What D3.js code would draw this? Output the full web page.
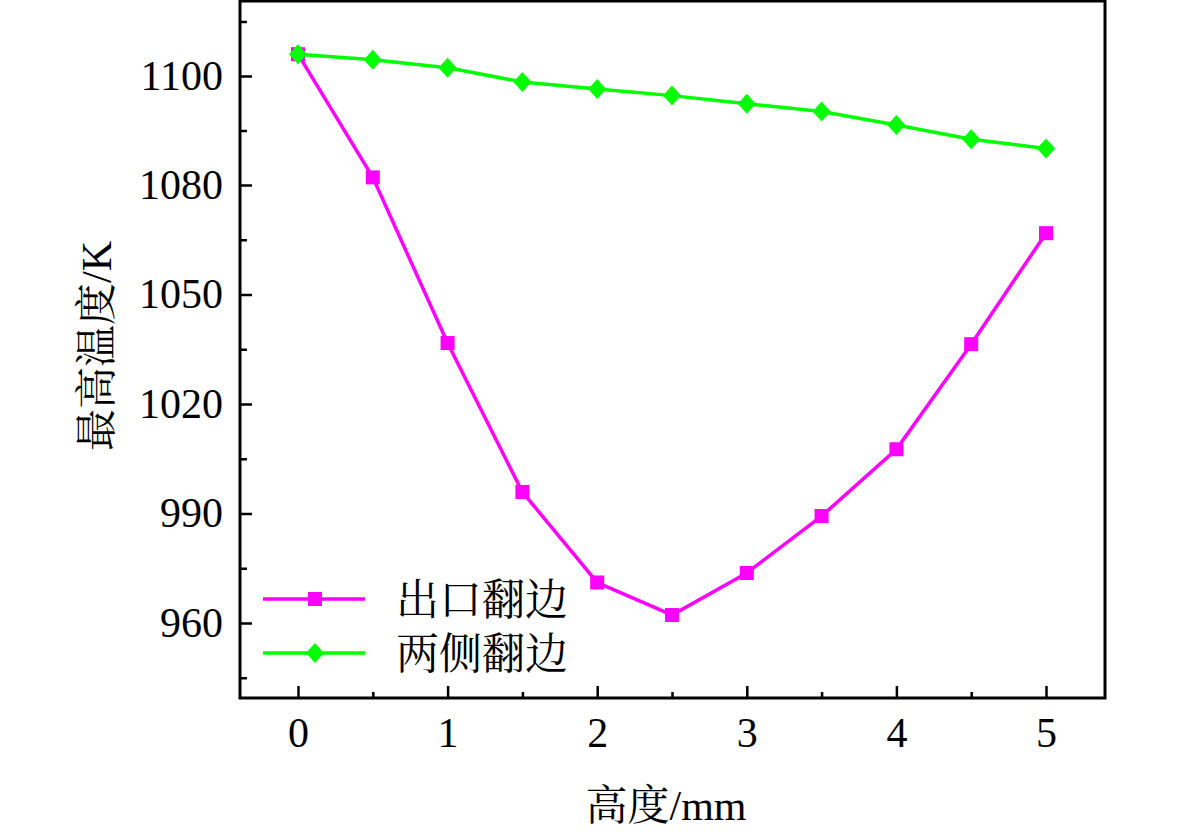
<!DOCTYPE html>
<html>
<head>
<meta charset="utf-8">
<script src="https://cdn.jsdelivr.net/npm/d3@7"></script>
<style>
  body { margin: 0; background: #fff; }
  text { font-family: "Liberation Serif", "Noto Serif CJK SC", "Noto Sans CJK SC", serif; fill: #000; }
</style>
</head>
<body>
<div id="chart"></div>
<script>
// heights (mm)
const heights = [0, 0.5, 1, 1.5, 2, 2.5, 3, 3.5, 4, 4.5, 5];
// max temperature (K)
const outletFlange = [1104.0, 1081.4, 1036.7, 995.9, 971.1, 962.2, 973.7, 989.3, 1007.6, 1036.4, 1066.8];
const sideFlange   = [1104.0, 1103.0, 1101.5, 1098.9, 1097.6, 1096.4, 1094.9, 1093.5, 1091.0, 1088.4, 1086.7];

const seriesNames = ["出口翻边", "两侧翻边"];
const xTicks = [0, 1, 2, 3, 4, 5];
const xMinor = [0.5, 1.5, 2.5, 3.5, 4.5];
// the y labels of the original are evenly spaced but not evenly valued
const yTicks = [960, 990, 1020, 1050, 1080, 1100];
const yMinor = [945, 975, 1005, 1035, 1065, 1090, 1110];

const W = 1181, H = 833;
const plotL = 240, plotR = 1105, plotT = 1, plotB = 698;

const svg = d3.select('#chart').append('svg')
    .attr('width', W)
    .attr('height', H);

const x = d3.scaleLinear().domain([0, 5]).range([298, 1046]);
// piecewise: 960..1080 evenly, then 1080..1100 over one tick step
const y = d3.scaleLinear().domain([960, 1080, 1100]).range([623, 185, 76]);

// frame
svg.append('rect')
    .attr('x', plotL).attr('y', plotT)
    .attr('width', plotR - plotL).attr('height', plotB - plotT)
    .attr('fill', 'none').attr('stroke', '#000').attr('stroke-width', 3);

// x axis (ticks pointing inside)
const xAxis = svg.append('g').attr('transform', `translate(0,${plotB})`);
xAxis.call(d3.axisBottom(x).tickValues(xTicks).tickSizeInner(-12).tickSizeOuter(0).tickPadding(20)
    .tickFormat(d3.format('d')));
xAxis.append('g').call(d3.axisBottom(x).tickValues(xMinor).tickSize(-6).tickFormat(''));

// y axis
const yAxis = svg.append('g').attr('transform', `translate(${plotL},0)`);
yAxis.call(d3.axisLeft(y).tickValues(yTicks).tickSizeInner(-12).tickSizeOuter(0).tickPadding(17)
    .tickFormat(d3.format('d')));
yAxis.append('g').call(d3.axisLeft(y).tickValues(yMinor).tickSize(-7).tickFormat(''));

svg.selectAll('.domain').remove();
svg.selectAll('.tick line').attr('stroke', '#000').attr('stroke-width', 2.5);
svg.selectAll('.tick text').style('font-size', '42px');
xAxis.selectAll('.tick text').attr('dy', '0.68em');

// titles
svg.append('text')
    .attr('x', 666).attr('y', 820)
    .attr('text-anchor', 'middle')
    .style('font-size', '42px')
    .text('高度/mm');

svg.append('text')
    .attr('transform', 'translate(111,346) rotate(-90)')
    .attr('text-anchor', 'middle')
    .style('font-size', '42px')
    .text('最高温度/K');

// lines
const line = d3.line()
    .x((d, i) => x(heights[i]))
    .y(d => y(d));

const magenta = '#ff00ff', green = '#00ff00';

svg.append('path').datum(outletFlange)
    .attr('d', line).attr('fill', 'none')
    .attr('stroke', magenta).attr('stroke-width', 3.5);

svg.selectAll('rect.sq')
    .data(outletFlange).enter().append('rect')
    .attr('class', 'sq')
    .attr('x', (d, i) => x(heights[i]) - 7)
    .attr('y', d => y(d) - 7)
    .attr('width', 14).attr('height', 14)
    .attr('fill', magenta);

svg.append('path').datum(sideFlange)
    .attr('d', line).attr('fill', 'none')
    .attr('stroke', green).attr('stroke-width', 3.5);

const diamond = 'M0,-10L9,0L0,10L-9,0Z';
svg.selectAll('path.dm')
    .data(sideFlange).enter().append('path')
    .attr('class', 'dm')
    .attr('d', diamond)
    .attr('transform', (d, i) => `translate(${x(heights[i])},${y(d)})`)
    .attr('fill', green);

// legend
const legend = svg.append('g');
const rows = [
    { name: seriesNames[0], color: magenta, y: 599, mark: 'sq' },
    { name: seriesNames[1], color: green, y: 653, mark: 'dm' }
];
rows.forEach(r => {
    legend.append('line')
        .attr('x1', 263).attr('x2', 365)
        .attr('y1', r.y).attr('y2', r.y)
        .attr('stroke', r.color).attr('stroke-width', 3.5);
    if (r.mark == 'sq') {
        legend.append('rect')
            .attr('x', 315 - 7).attr('y', r.y - 7)
            .attr('width', 14).attr('height', 14)
            .attr('fill', r.color);
    } else {
        legend.append('path')
            .attr('d', diamond)
            .attr('transform', `translate(315,${r.y})`)
            .attr('fill', r.color);
    }
    legend.append('text')
        .attr('x', 396).attr('y', r.y + 16)
        .style('font-size', '43px')
        .text(r.name);
});
</script>
</body>
</html>
